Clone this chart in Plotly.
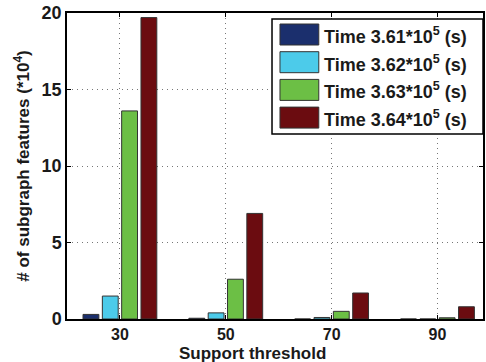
import plotly.graph_objects as go

categories = ["30", "50", "70", "90"]
series_names = ["Time 3.61*10<sup>5</sup> (s)", "Time 3.62*10<sup>5</sup> (s)",
                "Time 3.63*10<sup>5</sup> (s)", "Time 3.64*10<sup>5</sup> (s)"]
t361 = [0.3, 0.05, 0.0, 0.0]
t362 = [1.5, 0.4, 0.1, 0.0]
t363 = [13.6, 2.6, 0.5, 0.08]
t364 = [19.7, 6.9, 1.7, 0.8]
colors = ["#1b2f6d", "#4ccbea", "#6cbf45", "#6b0c10"]

series = [t361, t362, t363, t364]
FONT = "Liberation Sans"

fig = go.Figure()
for name, vals, col in zip(series_names, series, colors):
    fig.add_trace(go.Bar(x=categories, y=vals, name=name, marker_color=col,
                         marker_line_color="#333333", marker_line_width=1,
                         showlegend=False))

W, H = 486, 362
ml, mr, mt, mb = 67, 1, 13, 43
pw, ph = W - ml - mr, H - mt - mb
def px2paper(x, y):
    return (x - ml) / pw, 1 - (y - mt) / ph

lx0, lx1, ly0, ly1 = 273, 485, 19, 134
shapes = []
annotations = []
a0 = px2paper(lx0, ly0); a1 = px2paper(lx1, ly1)
shapes.append(dict(type="rect", xref="paper", yref="paper", x0=a0[0], x1=a1[0],
                   y0=a1[1], y1=a0[1], line=dict(color="black", width=1.5),
                   fillcolor="white", layer="above"))
for i, (name, col) in enumerate(zip(series_names, colors)):
    yc = 34.5 + i * 27.7
    s0 = px2paper(281, yc - 10.5); s1 = px2paper(320, yc + 10.5)
    shapes.append(dict(type="rect", xref="paper", yref="paper", x0=s0[0], x1=s1[0],
                       y0=s1[1], y1=s0[1], line=dict(color="#333333", width=1),
                       fillcolor=col, layer="above"))
    t = px2paper(323, yc + 1)
    annotations.append(dict(xref="paper", yref="paper", x=t[0], y=t[1], text=name,
                            showarrow=False, xanchor="left", yanchor="middle",
                            font=dict(family=FONT, size=18, color="#1a1a1a", weight="bold")))

xt = px2paper(ml + pw * 0.445, 362)
annotations.append(dict(xref="paper", yref="paper", x=xt[0], y=xt[1], text="Support threshold",
                        showarrow=False, xanchor="center", yanchor="bottom", yshift=-3,
                        font=dict(family=FONT, size=17, color="#1a1a1a", weight="bold")))

fig.update_layout(
    width=W, height=H, margin=dict(l=ml, r=mr, t=mt, b=mb),
    plot_bgcolor="white", paper_bgcolor="white",
    barmode="group", bargap=0.27, bargroupgap=0.18,
    font=dict(family=FONT, size=17, color="#1a1a1a", weight="bold"),
    shapes=shapes, annotations=annotations,
)
grid = dict(showgrid=True, gridcolor="#777", griddash="1px,4px", gridwidth=1)
fig.update_xaxes(type="category", range=[-0.5, 3.43], showline=True, linecolor="black", linewidth=1.5,
                 mirror="ticks", ticks="inside", ticklen=4, tickcolor="black",
                 tickfont=dict(size=16, family=FONT, weight="bold"), ticklabelstandoff=0,
                 **grid)
fig.update_yaxes(range=[0, 20], tickvals=[0, 5, 10, 15, 20], showline=True, linecolor="black", linewidth=1.5,
                 mirror="ticks", ticks="inside", ticklen=4, tickcolor="black", zeroline=False,
                 tickfont=dict(size=18, family=FONT, weight="bold"),
                 title=dict(text="# of subgraph features (*10<sup>4</sup>)", font=dict(size=17, weight="bold"), standoff=8),
                 **grid)

fig.write_html("out.html")
